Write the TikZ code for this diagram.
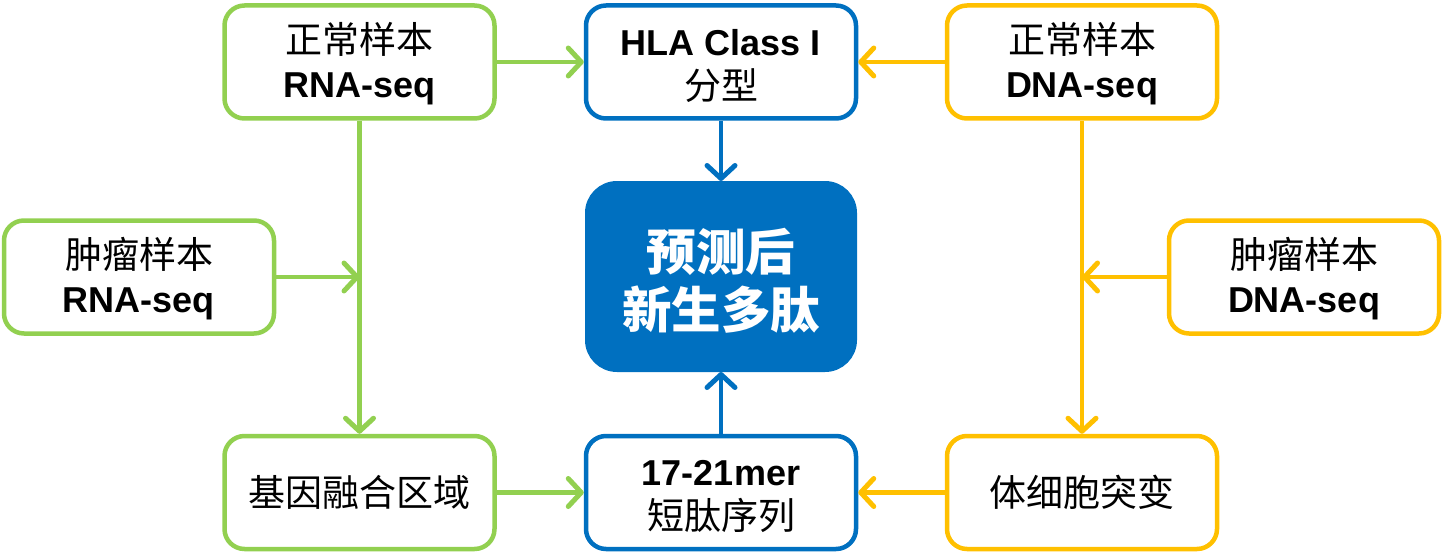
\documentclass[tikz,border=0pt]{standalone}
\usepackage{fontspec}
\setmainfont{Liberation Sans}
\newfontfamily\cjk{Noto Sans CJK SC}
\usetikzlibrary{arrows.meta}
\definecolor{cgreen}{HTML}{92D050}
\definecolor{cblue}{HTML}{0070C0}
\definecolor{cyellow}{HTML}{FFC000}
\newcommand{\topstrut}{\rule{0pt}{34pt}}
\begin{document}
\begin{tikzpicture}[x=1pt,y=-1pt,
  box/.style={draw,line width=4.5pt,rounded corners=20pt,fill=white,minimum width=270pt,minimum height=113pt,inner sep=0pt,align=center,font=\fontsize{36}{44}\selectfont},
  gbox/.style={box,draw=cgreen},
  bbox/.style={box,draw=cblue},
  ybox/.style={box,draw=cyellow},
  arr/.style={line width=4.5pt,-{Straight Barb[length=13pt,width=28pt,round,line width=5pt]}},
  garr/.style={arr,draw=cgreen},
  barr/.style={arr,draw=cblue},
  yarr/.style={arr,draw=cyellow}]
\useasboundingbox (0,0) rectangle (1443,559);
\node[gbox] (tl) at (359.5,62) {\topstrut{\cjk\fontsize{37}{44}\selectfont 正常样本}\\\textbf{RNA-seq}};
\node[bbox] (tc) at (721,62) {\topstrut\textbf{HLA Class I}\\{\cjk\fontsize{37}{44}\selectfont 分型}};
\node[ybox] (tr) at (1082,62) {\topstrut{\cjk\fontsize{37}{44}\selectfont 正常样本}\\\textbf{DNA-seq}};
\node[gbox] (ml) at (139,277) {\topstrut{\cjk\fontsize{37}{44}\selectfont 肿瘤样本}\\\textbf{RNA-seq}};
\node[ybox] (mr) at (1304,277) {\topstrut{\cjk\fontsize{37}{44}\selectfont 肿瘤样本}\\\textbf{DNA-seq}};
\node[draw=cblue,fill=cblue,line width=4pt,rounded corners=30pt,minimum width=268pt,minimum height=187pt,inner sep=0pt,align=center,text=white,font=\cjk\bfseries\fontsize{49.5}{58}\selectfont] (c) at (721,276.5) {\rule{0pt}{50pt}预测后\\新生多肽};
\node[gbox] (bl) at (359.5,492.5) {{\cjk\fontsize{37}{44}\selectfont 基因融合区域}};
\node[bbox] (bc) at (721,492.5) {\topstrut\textbf{17-21mer}\\{\cjk\fontsize{37}{44}\selectfont 短肽序列}};
\node[ybox] (br) at (1082,492.5) {{\cjk\fontsize{37}{44}\selectfont 体细胞突变}};
\draw[garr] (tl.east) -- (tc.west);
\draw[yarr] (tr.west) -- (tc.east);
\draw[barr] (tc.south) -- (c.north);
\draw[barr] (bc.north) -- (c.south);
\draw[garr] (bl.east) -- (bc.west);
\draw[yarr] (br.west) -- (bc.east);
\draw[garr] (tl.south) -- (bl.north);
\draw[yarr] (tr.south) -- (br.north);
\draw[garr] (ml.east) -- (ml.east -| tl.south);
\draw[yarr] (mr.west) -- (mr.west -| tr.south);
\end{tikzpicture}
\end{document}
